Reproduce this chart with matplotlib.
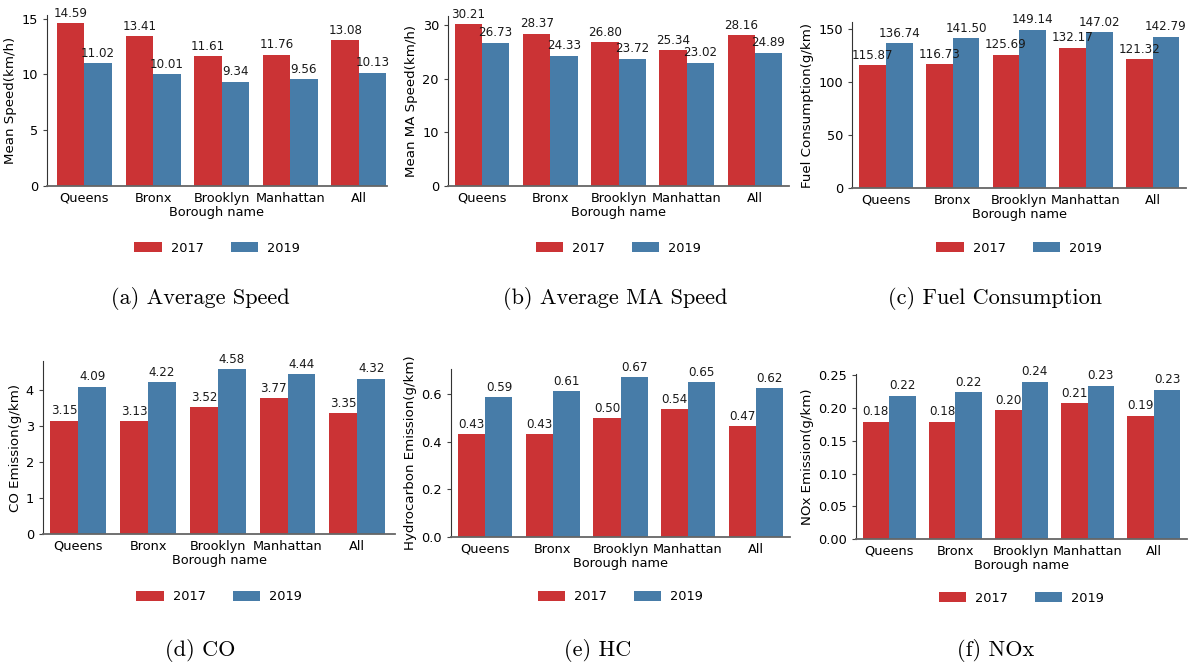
import matplotlib
matplotlib.use("Agg")
import matplotlib.pyplot as plt
import numpy as np
import seaborn as sns

boroughs = ["Queens", "Bronx", "Brooklyn", "Manhattan", "All"]
years = ["2017", "2019"]

speed_2017 = [14.59, 13.41, 11.61, 11.76, 13.08]
speed_2019 = [11.02, 10.01, 9.34, 9.56, 10.13]
ma_speed_2017 = [30.21, 28.37, 26.80, 25.34, 28.16]
ma_speed_2019 = [26.73, 24.33, 23.72, 23.02, 24.89]
fuel_2017 = [115.87, 116.73, 125.69, 132.17, 121.32]
fuel_2019 = [136.74, 141.50, 149.14, 147.02, 142.79]
co_2017 = [3.15, 3.13, 3.52, 3.77, 3.35]
co_2019 = [4.09, 4.22, 4.58, 4.44, 4.32]
hc_2017 = [0.432, 0.432, 0.499, 0.537, 0.466]
hc_2019 = [0.588, 0.613, 0.672, 0.651, 0.624]
nox_2017 = [0.179, 0.179, 0.197, 0.207, 0.188]
nox_2019 = [0.219, 0.224, 0.240, 0.234, 0.228]

ylabels = ["Mean Speed(km/h)", "Mean MA Speed(km/h)", "Fuel Consumption(g/km)",
           "CO Emission(g/km)", "Hydrocarbon Emission(g/km)", "NOx Emission(g/km)"]
captions = ["(a) Average Speed", "(b) Average MA Speed", "(c) Fuel Consumption",
            "(d) CO", "(e) HC", "(f) NOx"]

red = sns.desaturate("#e41a1c", 0.75)
blue = sns.desaturate("#377eb8", 0.75)

W, H = 1192, 663
fig = plt.figure(figsize=(W / 100, H / 100), dpi=100)

# axes boxes in pixels: left, right, top, bottom ; xlims ; legend y ; caption x,y
panels = [
    (speed_2017, speed_2019, (47, 387, 15, 186), (-0.546, 4.41), 248, (200, 298)),
    (ma_speed_2017, ma_speed_2019, (448, 789, 16, 186), (-0.5, 4.5), 248, (615, 298)),
    (fuel_2017, fuel_2019, (852, 1186, 22, 188), (-0.51, 4.5), 248, (995, 298)),
    (co_2017, co_2019, (43, 395, 361, 534), (-0.505, 4.54), 597, (200, 650)),
    (hc_2017, hc_2019, (451, 790, 369, 537), (-0.51, 4.51), 597, (598, 650)),
    (nox_2017, nox_2019, (856, 1187, 374, 539), (-0.5, 4.5), 598, (996, 650)),
]

x = np.arange(len(boroughs))
for i, (v17, v19, box, xl, legy, cap) in enumerate(panels):
    l, r, t, b = box
    ax = fig.add_axes([l / W, 1 - b / H, (r - l) / W, (b - t) / H])
    b1 = ax.bar(x - 0.2, v17, width=0.4, color=red, label=years[0])
    b2 = ax.bar(x + 0.2, v19, width=0.4, color=blue, label=years[1])
    ax.bar_label(b1, fmt="%.2f", padding=2.5, fontsize=8.6, color="#1a1a1a")
    ax.bar_label(b2, fmt="%.2f", padding=2.5, fontsize=8.6, color="#1a1a1a")
    ax.set_xlim(*xl)
    ax.set_xticks(x)
    ax.set_xticklabels(boroughs, fontsize=9.3)
    ax.tick_params(axis="y", labelsize=9.3, length=3, color="#444444")
    ax.tick_params(axis="x", length=0, pad=4)
    ax.set_xlabel("Borough name", fontsize=9.3, labelpad=1)
    ax.set_ylabel(ylabels[i], fontsize=9.6, labelpad=3)
    ax.spines["top"].set_visible(False)
    ax.spines["right"].set_visible(False)
    ax.spines["left"].set_color("#333333")
    ax.spines["bottom"].set_color("#666666")
    ax.spines["bottom"].set_linewidth(1.3)
    fig.legend(handles=[b1, b2], labels=years, loc="center",
               bbox_to_anchor=((l + r) / 2 / W, 1 - legy / H), ncol=2,
               frameon=False, fontsize=9.3, handlelength=2.1, handleheight=0.75,
               handletextpad=0.7, columnspacing=2.1)
    fig.text(cap[0] / W, 1 - cap[1] / H, captions[i], fontfamily="cmr10",
             fontsize=16, ha="center", va="center")

fig.savefig("out.png", dpi=100)
